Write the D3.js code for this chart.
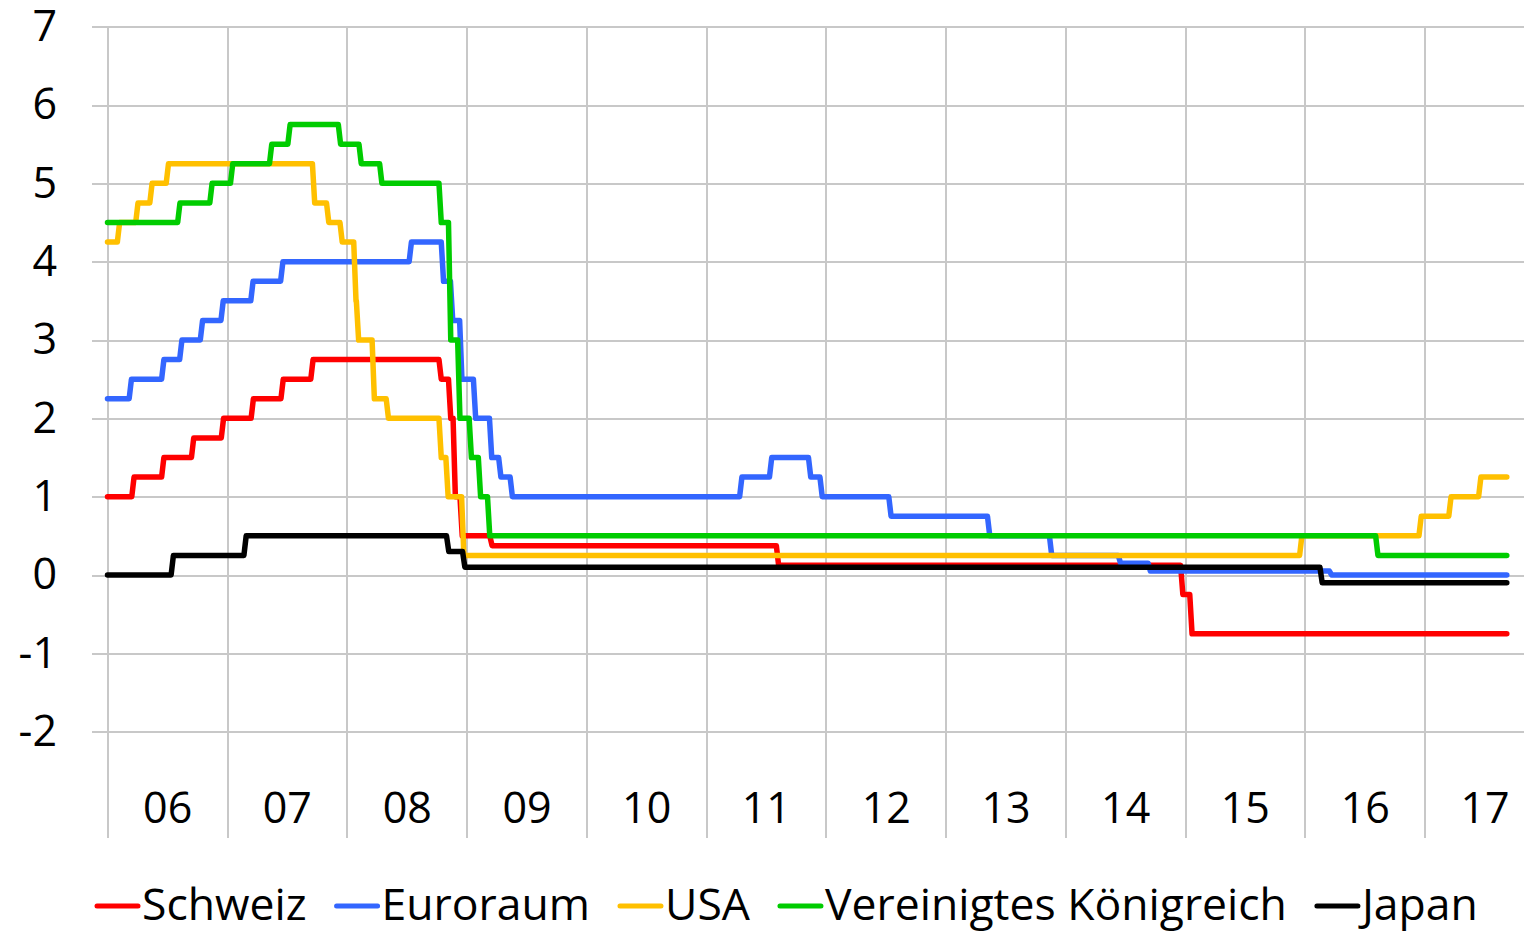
<!DOCTYPE html>
<html lang="de">
<head>
  <meta charset="UTF-8">
  <title>Leitzinsen</title>
  <style>
    body { margin: 0; background: #fff; }
    svg { display: block; }
    svg text { font-family: "Open Sans", sans-serif; fill: #000; }
    .grid line { stroke: #c8c8c8; stroke-width: 2; shape-rendering: crispEdges; }
    .grid .domain { display: none; }
    .grid text, .lbl text { font-size: 43px; }
    .lbl .domain, .lbl line { display: none; }
    .rate { fill: none; stroke-linejoin: round; stroke-linecap: round; }
    .legend text { font-size: 44.5px; }
  </style>
</head>
<body>
<div id="chart"></div>
<script src="https://cdn.jsdelivr.net/npm/d3@7"></script>
<script>
// tick labels
const years = ['06', '07', '08', '09', '10', '11', '12', '13', '14', '15', '16', '17'];
const yTicks = [-2, -1, 0, 1, 2, 3, 4, 5, 6, 7];

// policy rates: [date of change, new level]
const schweiz = [
  ['2006-01-01', 1.00], ['2006-03-16', 1.25], ['2006-06-15', 1.50], ['2006-09-14', 1.75],
  ['2006-12-14', 2.00], ['2007-03-15', 2.25], ['2007-06-14', 2.50], ['2007-09-13', 2.75],
  ['2008-10-08', 2.50], ['2008-11-06', 2.00], ['2008-11-20', 1.00], ['2008-12-11', 0.50],
  ['2009-03-12', 0.375], ['2011-08-03', 0.125], ['2014-12-18', -0.25], ['2015-01-15', -0.75]
];
const euroraum = [
  ['2006-01-01', 2.25], ['2006-03-08', 2.50], ['2006-06-15', 2.75], ['2006-08-09', 3.00],
  ['2006-10-11', 3.25], ['2006-12-13', 3.50], ['2007-03-14', 3.75], ['2007-06-13', 4.00],
  ['2008-07-09', 4.25], ['2008-10-15', 3.75], ['2008-11-12', 3.25], ['2008-12-10', 2.50],
  ['2009-01-21', 2.00], ['2009-03-11', 1.50], ['2009-04-08', 1.25], ['2009-05-13', 1.00],
  ['2011-04-13', 1.25], ['2011-07-13', 1.50], ['2011-11-09', 1.25], ['2011-12-14', 1.00],
  ['2012-07-11', 0.75], ['2013-05-08', 0.50], ['2013-11-13', 0.25], ['2014-06-11', 0.15],
  ['2014-09-10', 0.05], ['2016-03-16', 0.00]
];
const usa = [
  ['2006-01-01', 4.25], ['2006-01-31', 4.50], ['2006-03-28', 4.75], ['2006-05-10', 5.00],
  ['2006-06-29', 5.25], ['2007-09-18', 4.75], ['2007-10-31', 4.50], ['2007-12-11', 4.25],
  ['2008-01-22', 3.50], ['2008-01-30', 3.00], ['2008-03-18', 2.25], ['2008-04-30', 2.00],
  ['2008-10-08', 1.50], ['2008-10-29', 1.00], ['2008-12-16', 0.25], ['2015-12-16', 0.50],
  ['2016-12-14', 0.75], ['2017-03-15', 1.00], ['2017-06-14', 1.25]
];
const vereinigtesKoenigreich = [
  ['2006-01-01', 4.50], ['2006-08-03', 4.75], ['2006-11-09', 5.00], ['2007-01-11', 5.25],
  ['2007-05-10', 5.50], ['2007-07-05', 5.75], ['2007-12-06', 5.50], ['2008-02-07', 5.25],
  ['2008-04-10', 5.00], ['2008-10-08', 4.50], ['2008-11-06', 3.00], ['2008-12-04', 2.00],
  ['2009-01-08', 1.50], ['2009-02-05', 1.00], ['2009-03-05', 0.50], ['2016-08-04', 0.25]
];
const japan = [
  ['2006-01-01', 0.00], ['2006-07-14', 0.25], ['2007-02-21', 0.50], ['2008-10-31', 0.30],
  ['2008-12-19', 0.10], ['2016-02-16', -0.10]
];
const lastDate = '2017-09-08';

const series = [
  { name: 'Schweiz', color: '#ff0000', data: schweiz },
  { name: 'Euroraum', color: '#3366ff', data: euroraum },
  { name: 'USA', color: '#ffc000', data: usa },
  { name: 'Vereinigtes Königreich', color: '#00cc00', data: vereinigtesKoenigreich },
  { name: 'Japan', color: '#000000', data: japan }
];

const width = 1524, height = 932;
const parse = d3.timeParse('%Y-%m-%d');

const x = d3.scaleTime()
  .domain([new Date(2006, 0, 1), new Date(2018, 0, 1)])
  .range([107.5, 107.5 + 12 * 119.75]);
const y = d3.scaleLinear().domain([-2, 7]).range([731.7, 26.7]);

const svg = d3.select('#chart').append('svg')
  .attr('width', width)
  .attr('height', height);

// horizontal grid + y labels
svg.append('g')
  .attr('class', 'grid')
  .attr('transform', `translate(${width},0)`)
  .call(d3.axisLeft(y).tickValues(yTicks).tickSize(width - 92).tickPadding(35).tickFormat(d => String(d)));

// vertical grid at year starts
const yearStarts = years.map((d, i) => new Date(2006 + i, 0, 1));
svg.append('g')
  .attr('class', 'grid')
  .attr('transform', `translate(0,${y(7)})`)
  .call(d3.axisBottom(x).tickValues(yearStarts).tickSize(838 - y(7)).tickFormat(''));

// year labels in the middle of each year
const yearMids = years.map((d, i) => new Date(2006 + i, 6, 2));
svg.append('g')
  .attr('class', 'lbl')
  .attr('transform', 'translate(0,792)')
  .call(d3.axisBottom(x).tickValues(yearMids).tickSize(0).tickPadding(0)
    .tickFormat((d, i) => years[i]));

// build step paths with a short one-week transition
const week = 7 * 24 * 3600 * 1000;
function stepPoints(data) {
  const pts = [];
  data.forEach((d, i) => {
    const t = parse(d[0]);
    if (i === 0) { pts.push([t, d[1]]); return; }
    pts.push([t, data[i - 1][1]]);
    pts.push([new Date(+t + week), d[1]]);
  });
  pts.push([parse(lastDate), data[data.length - 1][1]]);
  return pts;
}

const line = d3.line()
  .x(d => x(d[0]))
  .y(d => y(d[1]));

svg.append('g')
  .selectAll('path')
  .data(series)
  .join('path')
  .attr('class', 'rate')
  .attr('stroke', d => d.color)
  .attr('stroke-width', 5.5)
  .attr('d', d => line(stepPoints(d.data)));

// legend
const legend = svg.append('g').attr('class', 'legend');
let lx = 95;
series.forEach(s => {
  legend.append('line')
    .attr('x1', lx + 2).attr('x2', lx + 43)
    .attr('y1', 906).attr('y2', 906)
    .attr('stroke', s.color).attr('stroke-width', 5).attr('stroke-linecap', 'round');
  const t = legend.append('text')
    .attr('x', lx + 47).attr('y', 920)
    .text(s.name);
  lx += 47 + t.node().getComputedTextLength() + 28;
});
</script>
</body>
</html>
